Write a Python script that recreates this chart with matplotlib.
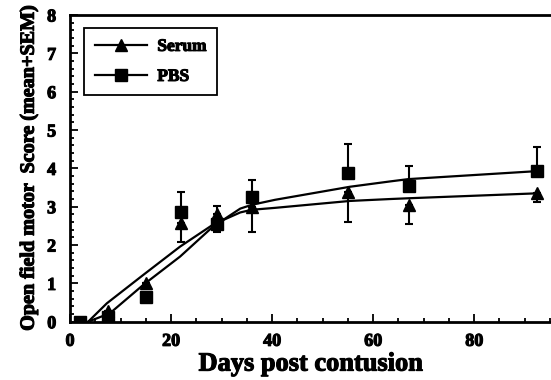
import numpy as np
import matplotlib
matplotlib.use("Agg")
import matplotlib.pyplot as plt
import matplotlib.patheffects as pe
from matplotlib.ticker import MultipleLocator

plt.rcParams['font.family'] = ['Liberation Serif', 'DejaVu Serif']
plt.rcParams['font.weight'] = 'bold'

# measured points
days = [2, 7.5, 15, 22, 29, 36, 55, 67, 92.5]
serum_mean = [0.0, 0.28, 1.0, 2.57, 2.82, 3.0, 3.39, 3.05, 3.35]
serum_err_lo = [0, 0, 0, 0.48, 0, 0.65, 0.79, 0.51, 0.22]
serum_err_hi = [0, 0, 0, 0, 0.2, 0, 0, 0, 0]
pbs_mean = [0.0, 0.12, 0.65, 2.85, 2.55, 3.24, 3.87, 3.54, 3.92]
pbs_err_lo = [0, 0, 0, 0, 0.2, 0, 0, 0, 0]
pbs_err_hi = [0, 0, 0, 0.53, 0, 0.46, 0.77, 0.51, 0.65]

# fitted curves
serum_fit_x = [3.6, 7.3, 14.5, 21.8, 28.4, 33.7, 36.0, 40.6, 55.4, 63.4, 67.0, 92.7]
serum_fit_y = [0.0, 0.48, 1.22, 1.96, 2.54, 2.85, 2.92, 2.97, 3.15, 3.20, 3.22, 3.35]
pbs_fit_x = [3.6, 7.9, 14.5, 21.8, 28.3, 33.7, 36.0, 40.6, 55.4, 63.4, 67.0, 92.7]
pbs_fit_y = [0.0, 0.22, 0.96, 1.70, 2.48, 2.95, 3.05, 3.18, 3.52, 3.66, 3.72, 3.93]

heavy = [pe.withStroke(linewidth=0.8, foreground='black')]

fig = plt.figure(figsize=(5.51, 3.80), dpi=100)
ax = fig.add_axes([0.127, 0.1534, 0.873, 0.8071])

ax.plot(serum_fit_x, serum_fit_y, color='black', lw=1.6, zorder=2)
ax.plot(pbs_fit_x, pbs_fit_y, color='black', lw=1.6, zorder=2)

ax.errorbar(days, serum_mean, yerr=[serum_err_lo, serum_err_hi], fmt='none',
            ecolor='black', elinewidth=1.5, capsize=3, capthick=1.5, zorder=3)
ax.errorbar(days, pbs_mean, yerr=[pbs_err_lo, pbs_err_hi], fmt='none',
            ecolor='black', elinewidth=1.5, capsize=3, capthick=1.5, zorder=3)
ax.plot(days, serum_mean, '^', color='black', ms=9, ls='none', zorder=4)
ax.plot(days, pbs_mean, 's', color='black', ms=8.5, ls='none', zorder=4)

# legend entries
ax.plot([], [], '-^', color='black', lw=1.6, ms=8, label='Serum')
ax.plot([], [], '-s', color='black', lw=1.6, ms=8, label='PBS')
leg = ax.legend(loc='upper left', bbox_to_anchor=(0.012, 0.985), fancybox=False,
                edgecolor='black', framealpha=1, handlelength=3.0,
                prop={'size': 12.5, 'weight': 'bold'}, borderpad=0.6, labelspacing=0.8,
                handletextpad=0.6)
leg.get_frame().set_linewidth(1.3)
for t in leg.get_texts():
    t.set_path_effects(heavy)

ax.set_xlim(0, 95.2)
ax.set_ylim(0, 8)
ax.xaxis.set_major_locator(MultipleLocator(20))
ax.xaxis.set_minor_locator(MultipleLocator(5))
ax.yaxis.set_major_locator(MultipleLocator(1))
ax.yaxis.set_minor_locator(MultipleLocator(0.2))
ax.tick_params(which='both', direction='in', top=False, right=False, labelsize=13, width=1.3)
ax.tick_params(which='major', length=6)
ax.tick_params(which='minor', length=3)
ax.tick_params(axis='y', which='major', pad=10)
ax.tick_params(axis='x', which='major', pad=8)
for lab in ax.get_xticklabels() + ax.get_yticklabels():
    lab.set_fontweight('bold')
    lab.set_path_effects(heavy)

for s in ['left', 'bottom', 'top']:
    ax.spines[s].set_linewidth(2)
ax.spines['right'].set_visible(False)

xl = ax.set_xlabel('Days post contusion', fontsize=19, fontweight='bold', labelpad=2)
yl = ax.set_ylabel('Open field motor  Score (mean+SEM)', fontsize=14.5, fontweight='bold', labelpad=6)
xl.set_path_effects(heavy)
yl.set_path_effects(heavy)

fig.savefig('out.png', dpi=100)
